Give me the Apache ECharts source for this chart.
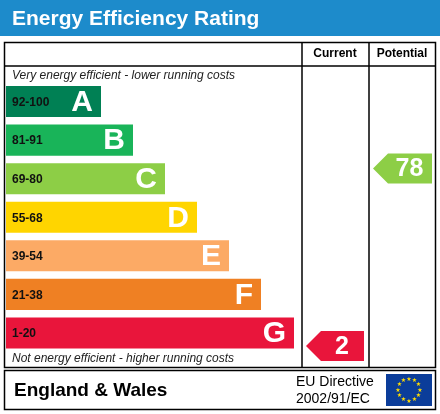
<!DOCTYPE html>
<html>
<head>
<meta charset="utf-8">
<script src="https://cdn.jsdelivr.net/npm/echarts@6/dist/echarts.min.js"></script>
</head>
<body style="margin:0">
<div id="container" style="width:440px;height:414px"></div>
<script>
let bands = ['A', 'B', 'C', 'D', 'E', 'F', 'G'];
let ranges = ['92-100', '81-91', '69-80', '55-68', '39-54', '21-38', '1-20'];
let lows = [92, 81, 69, 55, 39, 21, 1];
let highs = [100, 91, 80, 68, 54, 38, 20];
let barEnds = [101, 133, 165, 197, 229, 261, 294];
let colors = ['#008054', '#19b459', '#8dce46', '#ffd500', '#fcaa65', '#ef8023', '#e9153b'];
let currentRating = 2;
let potentialRating = 78;

function ratingPos(r) {
    for (let i = 0; i < lows.length; i++) {
        if (r >= lows[i] && r <= highs[i]) {
            return i + 0.82 * (highs[i] - r) / (highs[i] - lows[i] + 1);
        }
    }
    return 0;
}

let chart = echarts.init(document.getElementById('container'));
let font = 'Liberation Sans, Arial, sans-serif';

function arrowSeries(rating, x0, x1) {
    let idx = lows.findIndex((l, i) => rating >= l && rating <= highs[i]);
    return {
        type: 'custom',
        data: [[x0, ratingPos(rating), x1, rating, idx]],
        renderItem: function (params, api) {
            let a = api.coord([api.value(0), api.value(1)]);
            let b = api.coord([api.value(2), api.value(1)]);
            let h = 15;
            return {
                type: 'group',
                children: [{
                    type: 'polygon',
                    shape: { points: [[a[0], a[1]], [a[0] + 15, a[1] - h], [b[0], a[1] - h], [b[0], a[1] + h], [a[0] + 15, a[1] + h]] },
                    style: { fill: colors[api.value(4)] }
                }, {
                    type: 'text',
                    style: { text: String(api.value(3)), x: (a[0] + b[0]) / 2 + 7, y: a[1] + 1, fill: '#fff', font: 'bold 25px ' + font, align: 'center', verticalAlign: 'middle' }
                }]
            };
        }
    };
}

let stars = [];
for (let i = 0; i < 12; i++) {
    let ang = i * Math.PI / 6;
    stars.push({
        type: 'text',
        style: { text: '★', x: 409 + 11 * Math.cos(ang), y: 390 + 11 * Math.sin(ang), fill: '#ffdd00', font: '6px DejaVu Sans', align: 'center', verticalAlign: 'middle' }
    });
}

chart.setOption({
    animation: false,
    grid: { left: 0, right: 0, top: 86, height: 270 },
    xAxis: { type: 'value', min: 0, max: 440, show: false },
    yAxis: { type: 'value', min: 0, max: 7, inverse: true, show: false },
    graphic: [
        { type: 'rect', shape: { x: 0, y: 0, width: 440, height: 36 }, style: { fill: '#1d8bcb' } },
        { type: 'text', style: { text: 'Energy Efficiency Rating', x: 12, y: 19, fill: '#fff', font: 'bold 21px ' + font, verticalAlign: 'middle' } },
        { type: 'rect', shape: { x: 4.5, y: 42.5, width: 431, height: 325 }, style: { fill: 'none', stroke: '#000', lineWidth: 1.5 } },
        { type: 'line', shape: { x1: 4.5, y1: 66, x2: 435.5, y2: 66 }, style: { stroke: '#000', lineWidth: 1.5 } },
        { type: 'line', shape: { x1: 302, y1: 42.5, x2: 302, y2: 367.5 }, style: { stroke: '#000', lineWidth: 1.5 } },
        { type: 'line', shape: { x1: 369, y1: 42.5, x2: 369, y2: 367.5 }, style: { stroke: '#000', lineWidth: 1.5 } },
        { type: 'text', style: { text: 'Current', x: 335, y: 54, fill: '#000', font: 'bold 12px ' + font, align: 'center', verticalAlign: 'middle' } },
        { type: 'text', style: { text: 'Potential', x: 402, y: 54, fill: '#000', font: 'bold 12px ' + font, align: 'center', verticalAlign: 'middle' } },
        { type: 'text', style: { text: 'Very energy efficient - lower running costs', x: 12, y: 76, fill: '#222', font: 'italic 12px ' + font, verticalAlign: 'middle' } },
        { type: 'text', style: { text: 'Not energy efficient - higher running costs', x: 12, y: 359, fill: '#222', font: 'italic 12px ' + font, verticalAlign: 'middle' } },
        { type: 'rect', shape: { x: 4.5, y: 370.5, width: 431, height: 39 }, style: { fill: 'none', stroke: '#000', lineWidth: 1.5 } },
        { type: 'text', style: { text: 'England & Wales', x: 14, y: 391, fill: '#000', font: 'bold 19px ' + font, verticalAlign: 'middle' } },
        { type: 'text', style: { text: 'EU Directive\n2002/91/EC', x: 296, y: 391, fill: '#000', font: '14px ' + font, lineHeight: 17, verticalAlign: 'middle' } },
        { type: 'rect', shape: { x: 386, y: 374, width: 46, height: 32 }, style: { fill: '#0b3d9a' } }
    ].concat(stars),
    series: [{
        type: 'custom',
        data: bands.map((b, i) => [i, barEnds[i]]),
        renderItem: function (params, api) {
            let i = api.value(0);
            let tl = api.coord([6, i]);
            let br = api.coord([api.value(1), i + 1]);
            let h = br[1] - tl[1];
            return {
                type: 'group',
                children: [{
                    type: 'rect',
                    shape: { x: tl[0], y: tl[1], width: br[0] - tl[0], height: h - 7.5 },
                    style: { fill: colors[i] }
                }, {
                    type: 'text',
                    style: { text: ranges[i], x: tl[0] + 6, y: tl[1] + (h - 7.5) / 2 + 1, fill: '#111', font: 'bold 12px ' + font, verticalAlign: 'middle' }
                }, {
                    type: 'text',
                    style: { text: bands[i], x: br[0] - 8, y: tl[1] + (h - 7.5) / 2 + 1, fill: '#fff', font: 'bold 30px ' + font, align: 'right', verticalAlign: 'middle' }
                }]
            };
        }
    }, arrowSeries(currentRating, 306, 364), arrowSeries(potentialRating, 373, 432)]
});
</script>
</body>
</html>
